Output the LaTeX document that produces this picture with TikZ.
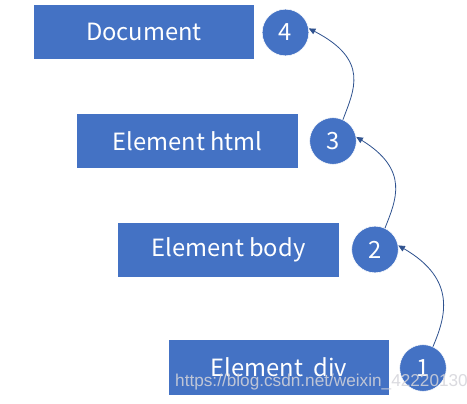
\documentclass[tikz,border=0pt]{standalone}
\usepackage{fontspec}
\setmainfont{Noto Sans CJK SC}
\newfontfamily\wmfont{Liberation Sans}
\usetikzlibrary{arrows.meta}
\definecolor{boxblue}{HTML}{4472C4}
\definecolor{arrblue}{HTML}{2F528F}
\definecolor{wmgray}{HTML}{D4D4DA}
\begin{document}
\begin{tikzpicture}[x=0.75pt,y=-0.75pt,
  box/.style={fill=boxblue,draw=none,text=white,font=\fontsize{17.8}{20}\selectfont},
  num/.style={circle,fill=boxblue,draw=white,line width=0.4pt,minimum size=35pt,inner sep=0pt,text=white,font=\fontsize{17.8}{20}\selectfont},
  link/.style={draw=arrblue,line width=0.6pt,-{Triangle[length=5pt,width=4.5pt]}}]
\useasboundingbox[fill=white] (0,0) rectangle (467,403);
\node[box,minimum width=165pt,minimum height=40.5pt] (doc) at (144,32) {Document};
\node[box,minimum width=165.75pt,minimum height=40.5pt] (html) at (187.5,141) {Element html};
\node[box,minimum width=165.75pt,minimum height=40.5pt] (body) at (228.5,250) {Element body};
\node[box,minimum width=165pt,minimum height=41.25pt] (div) at (279,367.5) {Element\hspace{0.45em}div};
\node[num] (n4) at (285.5,32.5) {4};
\node[num] (n3) at (333,141) {3};
\node[num] (n2) at (375,249.5) {2};
\node[num] (n1) at (423,368) {1};
\draw[link] (n3.65) .. controls (354,90) and (370,60) .. (n4.10);
\draw[link] (n2.65) .. controls (396,200) and (410,170) .. (n3.10);
\draw[link] (n1.65) .. controls (445,318) and (458,280) .. (n2.10);
\node[font=\wmfont\fontsize{12.9}{14}\selectfont,text=wmgray,opacity=0.85,anchor=base] (wm) at (321.5,386) {https://blog.csdn.net/weixin\_42220130};
\end{tikzpicture}
\end{document}
